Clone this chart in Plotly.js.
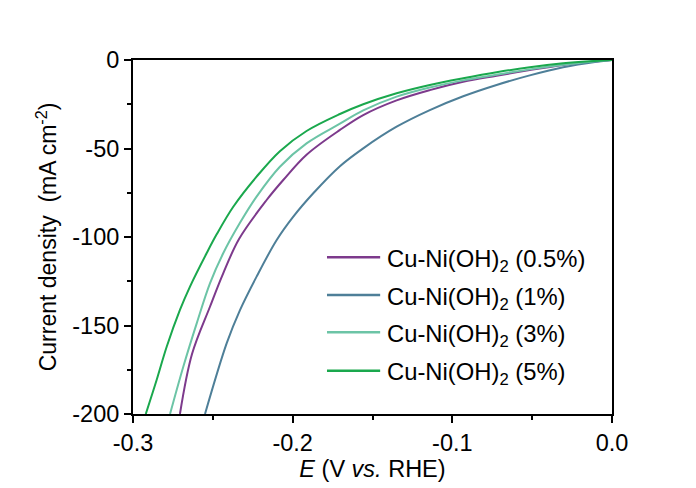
<!DOCTYPE html>
<html>
<head>
<meta charset="utf-8">
<script src="https://cdn.plot.ly/plotly-3.0.1.min.js"></script>
<style>html,body{margin:0;padding:0;background:#fff;}#chart{width:696px;height:488px;}</style>
</head>
<body>
<div id="chart"></div>
<script>
// Series names and colours
const seriesNames = ["Cu-Ni(OH)<sub>2</sub> (0.5%)", "Cu-Ni(OH)<sub>2</sub> (1%)", "Cu-Ni(OH)<sub>2</sub> (3%)", "Cu-Ni(OH)<sub>2</sub> (5%)"];
const seriesColors = ["#7d3a8c", "#4e7f98", "#6cc4a6", "#1aa84d"];

// Potential (V vs. RHE) and current density (mA cm^-2)
const E_05 = [-0.2706, -0.2630, -0.2518, -0.2435, -0.2335, -0.2163, -0.2059, -0.1913, -0.1704, -0.1558, -0.1349, -0.1141, -0.0932, -0.0723, -0.0515, -0.0306, -0.0150, 0.0];
const J_05 = [-200, -166.0, -139.4, -120.5, -101.0, -79.1, -67.8, -53.5, -39.5, -31.1, -22.8, -17.0, -12.3, -8.9, -5.7, -2.8, -1.2, 0];

const E_1 = [-0.2549, -0.2413, -0.2330, -0.2226, -0.2100, -0.1996, -0.1871, -0.1704, -0.1558, -0.1349, -0.1141, -0.0932, -0.0723, -0.0515, -0.0306, -0.0097, 0.0];
const J_1 = [-200, -160.0, -141.3, -122.4, -101.7, -88.5, -75.3, -60.0, -49.9, -37.7, -28.3, -20.5, -14.1, -8.7, -4.1, -1.0, 0];

const E_3 = [-0.2768, -0.2685, -0.2601, -0.2518, -0.2435, -0.2330, -0.2226, -0.2080, -0.1913, -0.1704, -0.1558, -0.1349, -0.1141, -0.0932, -0.0723, -0.0515, -0.0306, -0.0150, 0.0];
const J_3 = [-200, -173.3, -148.8, -126.2, -109.2, -92.0, -77.2, -60.3, -47.1, -36.0, -28.5, -20.7, -15.5, -11.5, -8.3, -5.3, -2.7, -1.1, 0];

const E_5 = [-0.2920, -0.2852, -0.2789, -0.2706, -0.2643, -0.2539, -0.2476, -0.2372, -0.2226, -0.2080, -0.1913, -0.1704, -0.1558, -0.1349, -0.1141, -0.0932, -0.0723, -0.0515, -0.0306, -0.0140, 0.0];
const J_5 = [-200, -180.8, -162.0, -141.2, -128.0, -109.2, -98.5, -82.9, -65.9, -51.5, -40.1, -30.5, -25.0, -18.8, -14.1, -10.3, -6.9, -4.1, -1.9, -0.7, 0];

// Tick labels
const xTickVals = [-0.3, -0.2, -0.1, 0.0];
const xTickText = ["-0.3", "-0.2", "-0.1", "0.0"];
const yTickVals = [0, -50, -100, -150, -200];
const yTickText = ["0", "-50", "-100", "-150", "-200"];

const Es = [E_05, E_1, E_3, E_5];
const Js = [J_05, J_1, J_3, J_5];

const FONT = "Arial, 'Liberation Sans', sans-serif";

const traces = Es.map((e, i) => ({
  x: e, y: Js[i], type: "scatter", mode: "lines",
  name: seriesNames[i],
  line: {color: seriesColors[i], width: 2, shape: "spline", smoothing: 1.0},
  showlegend: false
}));

// Manual legend (sample lines + labels) in paper coordinates
const legendY = [0.4427, 0.3362, 0.2308, 0.1223];
const shapes = [];
const annotations = [];
seriesNames.forEach((n, i) => {
  shapes.push({type: "line", xref: "paper", yref: "paper", x0: 0.405, x1: 0.516, y0: legendY[i], y1: legendY[i],
    line: {color: seriesColors[i], width: 2.5}});
  annotations.push({xref: "paper", yref: "paper", x: 0.526, y: legendY[i] - 0.009, xanchor: "left", yanchor: "middle",
    text: n, showarrow: false, font: {family: FONT, size: 23.8, color: "#000"}});
});

const layout = {
  width: 696, height: 488,
  margin: {l: 133, r: 84, t: 60, b: 74},
  paper_bgcolor: "#ffffff", plot_bgcolor: "#ffffff",
  font: {family: FONT, size: 24, color: "#000"},
  showlegend: false,
  xaxis: {
    range: [-0.3, 0.0], tickvals: xTickVals, ticktext: xTickText,
    ticks: "outside", ticklen: 7, tickwidth: 2, tickcolor: "#000",
    minor: {dtick: 0.05, tick0: 0, ticks: "outside", ticklen: 4, tickwidth: 2, tickcolor: "#000"},
    showline: true, linewidth: 2, linecolor: "#000", mirror: true,
    showgrid: false, zeroline: false,
    tickfont: {family: FONT, size: 23.5, color: "#000"},
    title: {text: "<i>E</i> (V <i>vs.</i> RHE)", font: {family: FONT, size: 23.5, color: "#000"}, standoff: 0}
  },
  yaxis: {
    range: [-200, 0], tickvals: yTickVals, ticktext: yTickText,
    ticks: "outside", ticklen: 7, tickwidth: 2, tickcolor: "#000",
    minor: {dtick: 25, tick0: 0, ticks: "outside", ticklen: 4, tickwidth: 2, tickcolor: "#000"},
    showline: true, linewidth: 2, linecolor: "#000", mirror: true,
    showgrid: false, zeroline: false,
    tickfont: {family: FONT, size: 23.5, color: "#000"},
    title: {text: "Current density&nbsp;&nbsp;(mA cm<sup>-2</sup>)", font: {family: FONT, size: 23, color: "#000"}, standoff: 9}
  },
  shapes: shapes,
  annotations: annotations
};

Plotly.newPlot("chart", traces, layout, {displayModeBar: false, staticPlot: true});
</script>
</body>
</html>
